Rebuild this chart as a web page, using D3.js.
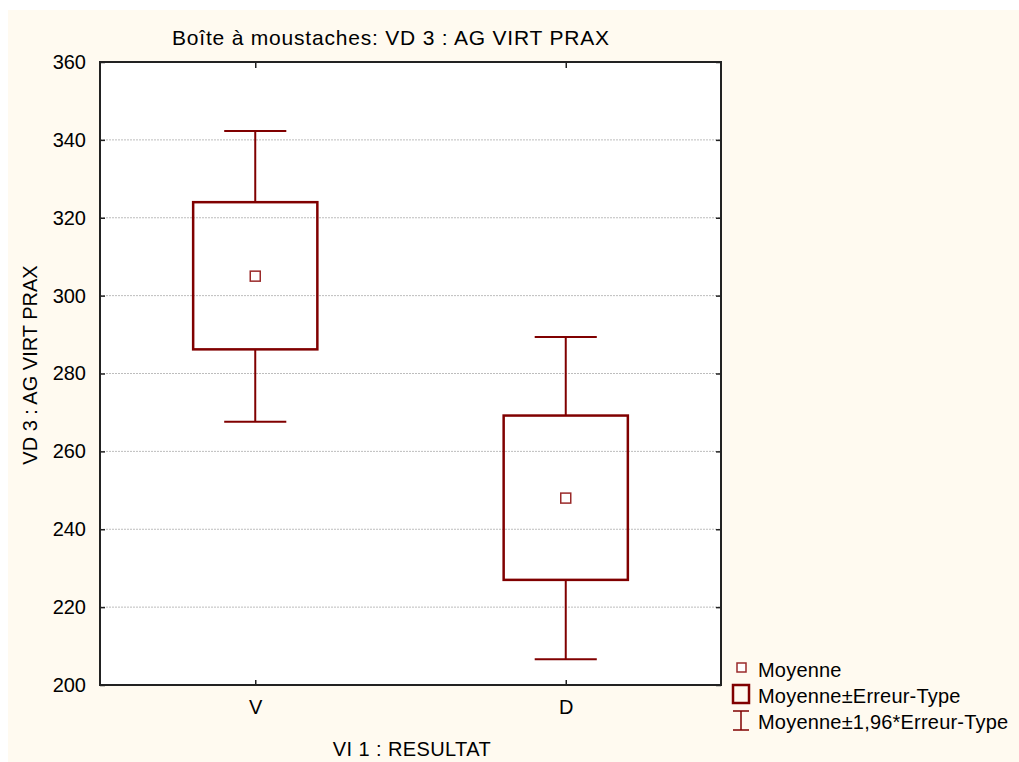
<!DOCTYPE html>
<html><head><meta charset="utf-8">
<script src="https://cdn.jsdelivr.net/npm/d3@7"></script>
<style>
html,body{margin:0;padding:0;background:#fff;}
svg{display:block;font-family:Arial,"Liberation Sans",sans-serif;}
</style></head>
<body>
<svg id="c" width="1019" height="762"></svg>
<script>
const categories = ["V", "D"];
const means = [305, 248];
const seLow = [286.2, 227.0];
const seHigh = [324.0, 269.2];
const ciLow = [267.6, 206.6];
const ciHigh = [342.3, 289.4];
const yTicks = [200, 220, 240, 260, 280, 300, 320, 340, 360];
const title = "Boîte à moustaches: VD 3 : AG VIRT PRAX";
const xTitle = "VI 1 : RESULTAT";
const yTitle = "VD 3 : AG VIRT PRAX";
const legendLabels = ["Moyenne", "Moyenne±Erreur-Type", "Moyenne±1,96*Erreur-Type"];

const W = 1019, H = 762;
const L = 100, R = 721, T = 62, B = 685;
const red = "#800000";
const svg = d3.select("#c");

svg.append("rect").attr("x", 8).attr("y", 10).attr("width", W - 8).attr("height", H - 10).attr("fill", "#fffaf0");
svg.append("rect").attr("x", L).attr("y", T).attr("width", R - L).attr("height", B - T).attr("fill", "#ffffff");

const y = d3.scaleLinear().domain([200, 360]).range([B, T]);
const x = d3.scalePoint().domain(categories).range([L, R]).padding(0.5);
const boxHalf = x.step() * 0.2;
const capHalf = boxHalf / 2;

// gridlines
svg.append("g").selectAll("line").data(yTicks.filter(d => d > 200 && d < 360)).join("line")
  .attr("x1", L).attr("x2", R).attr("y1", d => y(d)).attr("y2", d => y(d))
  .attr("stroke", "#bdbdbd").attr("stroke-width", 1).attr("stroke-dasharray", "2,1");

// y axis labels + ticks
const yAxis = d3.axisLeft(y).tickValues(yTicks).tickSize(-5).tickPadding(14);
const gy = svg.append("g").attr("transform", `translate(${L},0)`).call(yAxis);
gy.select(".domain").remove();
gy.selectAll(".tick line").attr("stroke", "#222").attr("stroke-width", 1.5);
gy.selectAll(".tick text").attr("font-size", 20).attr("fill", "#000").attr("font-family", "Arial, Liberation Sans, sans-serif");

const yAxisR = d3.axisRight(y).tickValues(yTicks).tickSize(-5).tickFormat("");
const gyr = svg.append("g").attr("transform", `translate(${R},0)`).call(yAxisR);
gyr.select(".domain").remove();
gyr.selectAll(".tick line").attr("stroke", "#222").attr("stroke-width", 1.5);

const xAxis = d3.axisBottom(x).tickSize(-5).tickPadding(15);
const gx = svg.append("g").attr("transform", `translate(0,${B})`).call(xAxis);
gx.select(".domain").remove();
gx.selectAll(".tick line").attr("stroke", "#222").attr("stroke-width", 1.5);
gx.selectAll(".tick text").attr("font-size", 20).attr("fill", "#000").attr("font-family", "Arial, Liberation Sans, sans-serif");

const xAxisT = d3.axisTop(x).tickSize(-6).tickFormat("");
const gxt = svg.append("g").attr("transform", `translate(0,${T})`).call(xAxisT);
gxt.select(".domain").remove();
gxt.selectAll(".tick line").attr("stroke", "#222").attr("stroke-width", 1.5);

// whiskers
const g = svg.append("g");
categories.forEach((c, i) => {
  const cx = x(c);
  g.append("line").attr("x1", cx).attr("x2", cx).attr("y1", y(ciHigh[i])).attr("y2", y(seHigh[i])).attr("stroke", red).attr("stroke-width", 2);
  g.append("line").attr("x1", cx).attr("x2", cx).attr("y1", y(seLow[i])).attr("y2", y(ciLow[i])).attr("stroke", red).attr("stroke-width", 2);
  g.append("line").attr("x1", cx - capHalf).attr("x2", cx + capHalf).attr("y1", y(ciHigh[i])).attr("y2", y(ciHigh[i])).attr("stroke", red).attr("stroke-width", 2);
  g.append("line").attr("x1", cx - capHalf).attr("x2", cx + capHalf).attr("y1", y(ciLow[i])).attr("y2", y(ciLow[i])).attr("stroke", red).attr("stroke-width", 2);
  g.append("rect").attr("x", cx - boxHalf).attr("width", 2 * boxHalf)
    .attr("y", y(seHigh[i])).attr("height", y(seLow[i]) - y(seHigh[i]))
    .attr("fill", "none").attr("stroke", red).attr("stroke-width", 2.5);
  g.append("rect").attr("x", cx - 5).attr("y", y(means[i]) - 5).attr("width", 10).attr("height", 10)
    .attr("fill", "#fff").attr("stroke", "#9a2a2a").attr("stroke-width", 1.5);
});

// frame
svg.append("rect").attr("x", L).attr("y", T).attr("width", R - L).attr("height", B - T)
  .attr("fill", "none").attr("stroke", "#222").attr("stroke-width", 2);

// titles
svg.append("text").attr("x", 172).attr("y", 45).attr("font-size", 21).attr("textLength", 437).attr("lengthAdjust", "spacing").text(title);
svg.append("text").attr("x", 412).attr("y", 756).attr("text-anchor", "middle").attr("font-size", 20).attr("letter-spacing", 0.4).text(xTitle);
svg.append("text").attr("transform", `translate(37,365) rotate(-90)`).attr("text-anchor", "middle").attr("font-size", 20).text(yTitle);

// legend
const lg = svg.append("g");
lg.append("rect").attr("x", 737).attr("y", 663).attr("width", 9).attr("height", 9).attr("fill", "#fff").attr("stroke", "#9a2a2a").attr("stroke-width", 1.5);
lg.append("rect").attr("x", 733).attr("y", 685).attr("width", 16).attr("height", 18).attr("fill", "none").attr("stroke", red).attr("stroke-width", 2.5);
lg.append("line").attr("x1", 741).attr("x2", 741).attr("y1", 711).attr("y2", 730).attr("stroke", red).attr("stroke-width", 1.5);
lg.append("line").attr("x1", 733).attr("x2", 749).attr("y1", 711).attr("y2", 711).attr("stroke", red).attr("stroke-width", 1.5);
lg.append("line").attr("x1", 733).attr("x2", 749).attr("y1", 730).attr("y2", 730).attr("stroke", red).attr("stroke-width", 1.5);
const lgY = [677, 703, 729];
lg.selectAll("text").data(legendLabels).join("text")
  .attr("x", 758).attr("y", (d, i) => lgY[i]).attr("font-size", 20).attr("letter-spacing", 0.2).text(d => d);
</script>
</body></html>
